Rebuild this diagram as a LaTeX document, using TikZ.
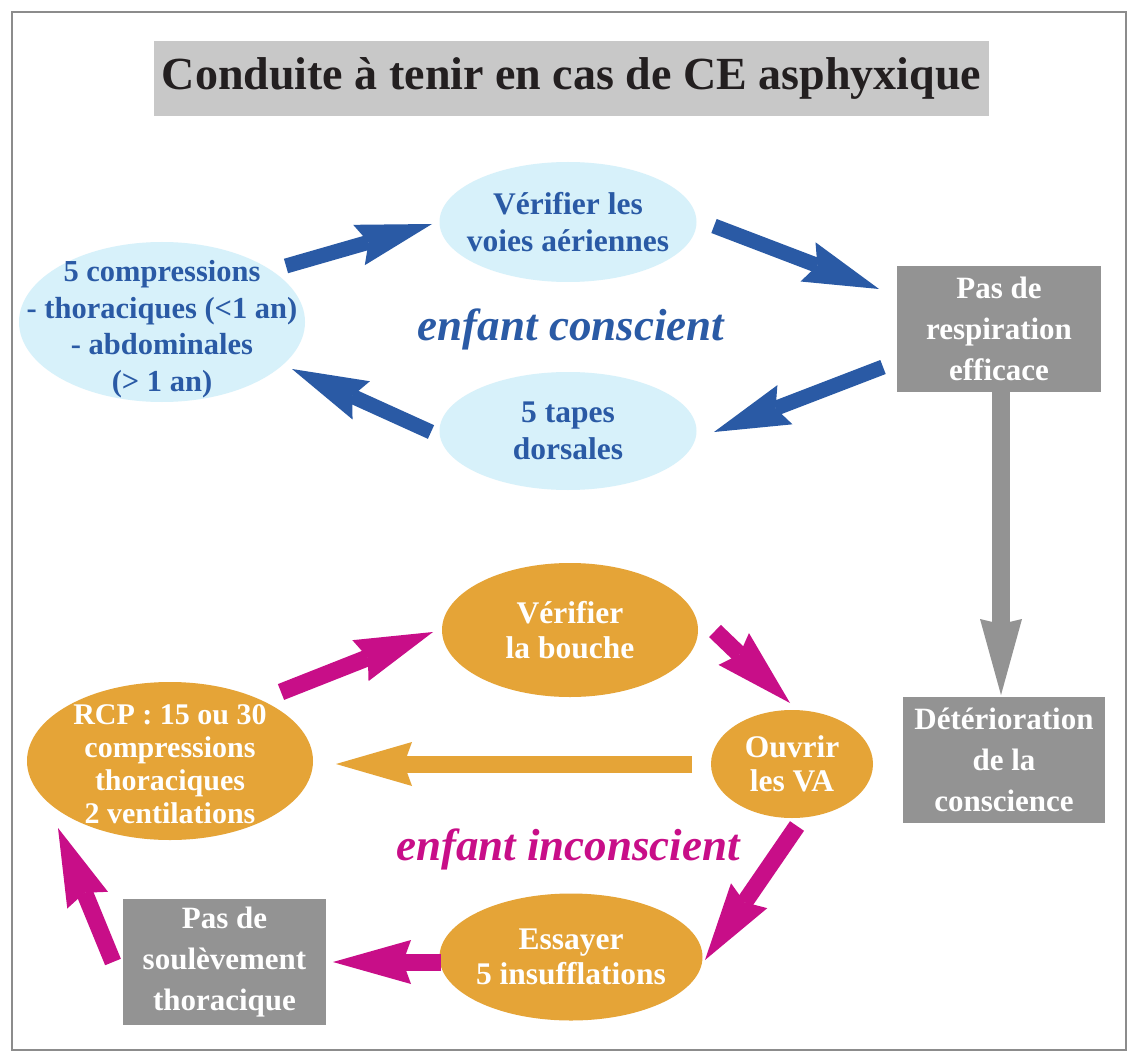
\documentclass[tikz,border=0pt]{standalone}
\usepackage{fontspec}
\setmainfont{Liberation Serif}
\usetikzlibrary{shapes.geometric,arrows.meta,calc}
\definecolor{cblue}{HTML}{2A5AA5}
\definecolor{clight}{HTML}{D7F1FA}
\definecolor{corange}{HTML}{E5A437}
\definecolor{cmag}{HTML}{C80E88}
\definecolor{cgray}{HTML}{939393}
\definecolor{ctitle}{HTML}{C8C8C8}
\definecolor{cframe}{HTML}{8C8C8C}
\definecolor{ctext}{HTML}{231F20}
\begin{document}
\begin{tikzpicture}[x=1pt,y=-1pt,
  every node/.style={inner sep=0pt, outer sep=0pt, align=center},
  lbell/.style={ellipse, fill=clight},
  orell/.style={ellipse, fill=corange},
  btext/.style={font=\bfseries\fontsize{31.5}{36.5}\selectfont, text=cblue},
  wtext/.style={font=\bfseries\fontsize{31.5}{34.5}\selectfont, text=white},
  gbox/.style={rectangle, fill=cgray, text=white, font=\bfseries\fontsize{31}{41}\selectfont},
  italabel/.style={font=\bfseries\itshape\fontsize{45}{50}\selectfont, anchor=base},
  barr/.style={draw=cblue, line width=15pt, -{Stealth[length=76pt, width=42pt, inset=10pt, line width=0pt]}},
  marr/.style={draw=cmag, line width=17pt, -{Stealth[length=78pt, width=44pt, inset=8pt, line width=0pt]}},
  oarr/.style={draw=corange, line width=17pt, -{Stealth[length=76pt, width=44pt, inset=8pt, line width=0pt]}},
  garr/.style={draw=cgray, line width=18pt, -{Stealth[length=76pt, width=42pt, inset=5pt, line width=0pt]}}
]
\useasboundingbox (0,0) rectangle (1134,1064);
\fill[white] (0,0) rectangle (1134,1064);
\draw[cframe, line width=1.5pt] (12,12) rectangle (1126,1050);

% title
\node[fill=ctitle, minimum width=835pt, minimum height=75pt, text=ctext,
      font=\bfseries\fontsize{46}{50}\selectfont] (title) at (571.5,78.5) {Conduite à tenir en cas de CE asphyxique};

% conscious loop
\node[lbell, minimum width=257pt, minimum height=120pt] (T) at (568,222) {};
\node[btext] (Tt) at (T) {Vérifier les\\voies aériennes};
\node[lbell, minimum width=286pt, minimum height=160pt] (L) at (162,322) {};
\node[btext, font=\bfseries\fontsize{30.5}{36.5}\selectfont] (Lt) at ($(L)+(0,7)$) {5 compressions\\- thoraciques (<1 an)\\- abdominales\\(> 1 an)};
\node[lbell, minimum width=257pt, minimum height=118pt] (D) at (568,431) {};
\node[btext] (Dt) at (D) {5 tapes\\dorsales};
\node[gbox, minimum width=204pt, minimum height=126pt] (P) at (999,329) {Pas de\\respiration\\efficace};
\node[italabel, text=cblue] (conscient) at (571,340) {enfant conscient};

% unconscious loop
\node[gbox, minimum width=202pt, minimum height=126pt] (Det) at (1004,760) {Détérioration\\de la\\conscience};
\node[orell, minimum width=256pt, minimum height=134pt] (VB) at (570,630) {};
\node[wtext] (VBt) at (VB) {Vérifier\\la bouche};
\node[orell, minimum width=162pt, minimum height=108pt] (OVA) at (792,764) {};
\node[wtext] (OVAt) at (OVA) {Ouvrir\\les VA};
\node[orell, minimum width=286pt, minimum height=158pt] (RCP) at (170,761) {};
\node[wtext, font=\bfseries\fontsize{30}{33}\selectfont] (RCPt) at ($(RCP)+(0,3)$) {RCP : 15 ou 30\\compressions\\thoraciques\\2 ventilations};
\node[orell, minimum width=263pt, minimum height=127pt] (ESS) at (571,957) {};
\node[wtext] (ESSt) at (ESS) {Essayer\\5 insufflations};
\node[gbox, minimum width=203pt, minimum height=126pt] (PS) at (224.5,962) {Pas de\\soulèvement\\thoracique};
\node[italabel, text=cmag] (inconscient) at (568,860) {enfant inconscient};

% blue arrows
\draw[barr] ($(L)+(124,-56)$) -- ($(T)+(-136,2)$);
\draw[barr] ($(T)+(146,4)$) -- ($(P)+(-120,-40)$);
\draw[barr] ($(P)+(-116,38)$) -- ($(D)+(146,1)$);
\draw[barr] ($(D)+(-137,1)$) -- ($(L)+(130,47)$);
% gray arrow
\draw[garr] ($(P)+(2,63)$) -- ($(Det)+(-3,-65)$);
% magenta arrows
\draw[marr] ($(RCP)+(111,-69)$) -- ($(VB)+(-137,2)$);
\draw[marr] ($(VB)+(145,1)$) -- ($(OVA)+(-2,-61)$);
\draw[marr] ($(OVA)+(5,62)$) -- ($(ESS)+(134,3)$);
\draw[marr] ($(ESS)+(-130,5)$) -- ($(PS)+(108.5,0)$);
\draw[marr] ($(PS)+(-111.5,0)$) -- ($(RCP)+(-112,67)$);
% orange arrow
\draw[oarr] ($(OVA)+(-100,0)$) -- ($(RCP)+(166,3)$);
\end{tikzpicture}
\end{document}
